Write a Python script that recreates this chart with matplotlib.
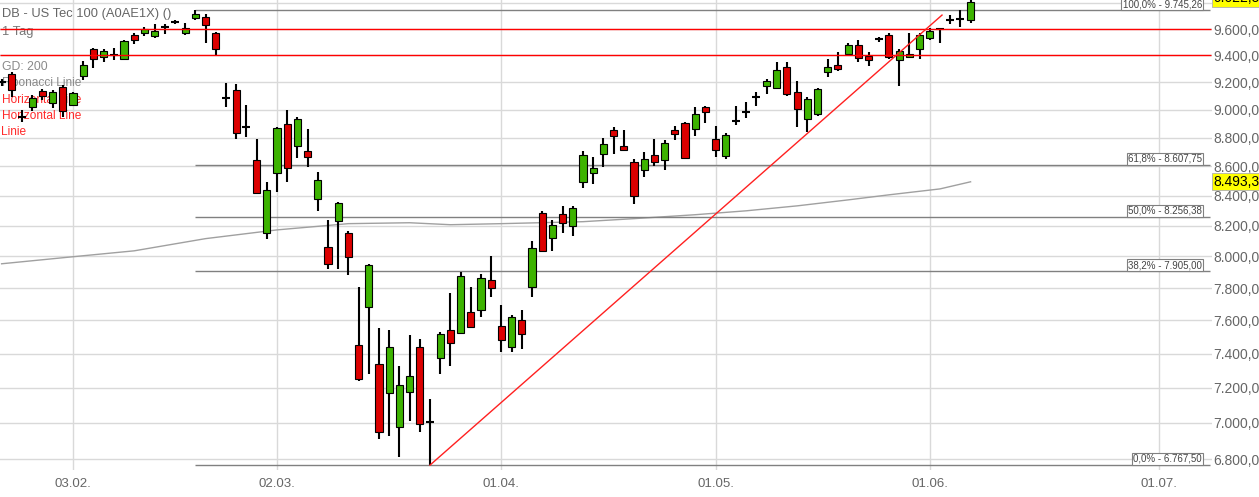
import matplotlib
matplotlib.use("Agg")
from matplotlib import pyplot as plt
from matplotlib.ticker import FixedLocator, FuncFormatter, NullLocator
import matplotlib.transforms as mtransforms
import numpy as np

plt.rcParams['font.family'] = ['Liberation Sans', 'DejaVu Sans']

# daily candles (trading-day index 0..95)
opens = [9201, 9260, 8946, 9018, 9135, 9047, 9164, 9033, 9246, 9448,
         9387, 9402, 9372, 9554, 9570, 9547, 9616, 9654, 9570, 9685,
         9693, 9570, 9084, 9142, 8875, 8644, 8153, 8554, 8897, 8741,
         8706, 8378, 8062, 8231, 8153, 7453, 7683, 7340, 7171, 6979,
         7177, 7441, 7007, 7375, 7543, 7525, 7652, 7665, 7851, 7567,
         7441, 7603, 7807, 8284, 8120, 8277, 8198, 8493, 8554, 8685,
         8854, 8741, 8630, 8575, 8678, 8644, 8854, 8904, 8861, 9018,
         8790, 8671, 8918, 8982, 9091, 9171, 9157, 9312, 9128, 8932,
         8968, 9275, 9327, 9410, 9478, 9395, 9524, 9554, 9365, 9387,
         9448, 9531, 9600, 9670, 9678, 9670]
highs = [9223, 9275, 8997, 9106, 9150, 9142, 9179, 9128, 9357, 9455,
         9448, 9455, 9516, 9570, 9616, 9639, 9639, 9670, 9647, 9745,
         9716, 9578, 9194, 9186, 9033, 8790, 8493, 8872, 8997, 8946,
         8861, 8561, 8238, 8355, 8166, 7807, 7953, 7555, 7543, 7328,
         7513, 7489, 7137, 7531, 7770, 7902, 7807, 7889, 8004, 7695,
         7634, 7665, 8100, 8297, 8238, 8330, 8330, 8706, 8664, 8797,
         8875, 8854, 8651, 8699, 8790, 8783, 8882, 8911, 9018, 9025,
         8882, 8832, 9025, 9055, 9128, 9223, 9350, 9350, 9208, 9091,
         9157, 9372, 9425, 9493, 9516, 9425, 9539, 9570, 9448, 9570,
         9570, 9608, 9608, 9709, 9748, 9826]
lows = [9171, 9091, 8911, 8990, 9069, 9011, 8946, 9025, 9216, 9305,
        9350, 9365, 9365, 9485, 9547, 9531, 9562, 9639, 9554, 9670,
        9493, 9402, 9018, 8790, 8804, 8412, 8113, 8425, 8493, 8657,
        8595, 8298, 7921, 7921, 7883, 7241, 7282, 6912, 6929, 6813,
        7012, 6951, 6767.5, 7282, 7328, 7519, 7555, 7621, 7745, 7411,
        7411, 7429, 7745, 8029, 8036, 8153, 8133, 8452, 8479, 8595,
        8685, 8706, 8344, 8527, 8602, 8575, 8783, 8651, 8811, 8904,
        8664, 8651, 8889, 8939, 9025, 9113, 9150, 9098, 8875, 8840,
        8953, 9238, 9283, 9395, 9350, 9320, 9501, 9372, 9171, 9380,
        9372, 9516, 9493, 9639, 9616, 9647]
closes = [9201, 9142, 8946, 9084, 9098, 9128, 8990, 9120, 9327, 9372,
          9433, 9402, 9508, 9516, 9600, 9585, 9616, 9654, 9608, 9716,
          9631, 9448, 9084, 8833, 8875, 8418, 8438, 8868, 8588, 8932,
          8664, 8506, 7953, 8351, 7997, 7252, 7946, 6951, 7441, 7218,
          7270, 6996, 7007, 7519, 7465, 7876, 7561, 7864, 7801, 7483,
          7621, 7519, 8055, 8036, 8205, 8218, 8317, 8678, 8588, 8755,
          8811, 8713, 8398, 8651, 8630, 8762, 8825, 8657, 8968, 8982,
          8713, 8818, 8918, 8982, 9091, 9208, 9290, 9113, 9004, 9076,
          9150, 9312, 9297, 9478, 9380, 9365, 9524, 9387, 9433, 9410,
          9554, 9585, 9600, 9670, 9678, 9810]

# 200-day average (GD 200)
ma_idx = [0, 7, 13, 20, 27, 34, 40, 44, 49, 57, 62, 68, 73, 78, 83, 87, 92, 95]
ma_val = [7953, 7998, 8036, 8115, 8172, 8213, 8219, 8206, 8213, 8226,
          8246, 8272, 8298, 8331, 8371, 8405, 8445, 8493.3]

fib_pct = ['100,0%', '61,8%', '50,0%', '38,2%', '0,0%']
fib_val = [9745.26, 8607.75, 8256.38, 7905.00, 6767.50]
fib_start = 18.95

hlines_red = [9600, 9400]
trend_x = [42, 92.2]
trend_y = [6767.5, 9708]

date_pos = [7, 27, 49, 70, 91, 113.5]
date_lab = ['03.02.', '02.03.', '01.04.', '01.05.', '01.06.', '01.07.']
yticks = [6800, 7000, 7200, 7400, 7600, 7800, 8000, 8200, 8400, 8600,
          8800, 9000, 9200, 9400, 9600, 9800]
last_price = 9622.5
ma_last = 8493.3


def de(v, nd):
    s = f"{v:,.{nd}f}"
    return s.replace(',', 'X').replace('.', ',').replace('X', '.')


W, H = 1259, 497
fig = plt.figure(figsize=(W / 100, H / 100), dpi=100)
ax = fig.add_axes([0, 27 / H, 1212 / W, 470 / H])
ax.set_yscale('log')
ax.set_ylim(6741, 9826)
ax.set_xlim(-0.157, 118.67)
for s in ax.spines.values():
    s.set_visible(False)

# grid
for y in yticks:
    ax.axhline(y, color='#d9d9d9', lw=1, zorder=0)
for x in date_pos:
    ax.axvline(x, color='#d9d9d9', lw=1, zorder=0)

# axis ticks (top label sits under the yellow last-price box)
ax.yaxis.tick_right()
ax.yaxis.set_major_locator(FixedLocator(yticks[:-1]))
ax.yaxis.set_minor_locator(NullLocator())
ax.yaxis.set_major_formatter(FuncFormatter(lambda v, p: de(v, 1)))
ax.tick_params(axis='y', length=0, pad=1, labelsize=10, labelcolor='#666666')
ax.set_xticks(date_pos)
ax.set_xticklabels(date_lab)
ax.tick_params(axis='x', length=0, pad=6, labelsize=9.5, labelcolor='#666666')

# candles
idx = np.arange(len(opens))
o = np.array(opens, float)
c = np.array(closes, float)
ax.vlines(idx, lows, highs, color='black', lw=1.5, zorder=2.5)
up = c > o
dn = c < o
doji = c == o
ax.bar(idx[up], c[up] - o[up], bottom=o[up], width=0.69, color='#3db300',
       edgecolor='black', lw=0.8, zorder=3)
ax.bar(idx[dn], o[dn] - c[dn], bottom=c[dn], width=0.69, color='#dc0000',
       edgecolor='black', lw=0.8, zorder=3)
ax.hlines(o[doji], idx[doji] - 0.4, idx[doji] + 0.4, color='black', lw=1.5,
          zorder=3)

# moving average
ax.plot(ma_idx, ma_val, color='#a0a0a0', lw=1, zorder=2)

# fibonacci
x_end = 118.45
ax.hlines(fib_val, fib_start, x_end, color='#808080', lw=1, zorder=2)
bt = mtransforms.blended_transform_factory(ax.transAxes, ax.transData)
for p, v in zip(fib_pct, fib_val):
    ax.text(1202 / 1212, v * 1.0009, f"{p} - {de(v, 2)}", transform=bt,
            ha='right', va='bottom', fontsize=7, color='#444444', zorder=5,
            bbox=dict(boxstyle='square,pad=0.12', fc='white', ec='#808080',
                      lw=0.8))

# red lines
ax.hlines(hlines_red, -0.157, 118.6, color='#ff0000', lw=1, zorder=4)
ax.plot(trend_x, trend_y, color='#ff2020', lw=1, zorder=4)

# price labels at the right
ax.text(1.001, ma_last, de(ma_last, 1), transform=bt, ha='left', va='center',
        fontsize=10, color='black', clip_on=False, zorder=6,
        bbox=dict(boxstyle='square,pad=0.1', fc='#ffff00', ec='#b0b0b0',
                  lw=0.6))
ax.text(1.001, 1.004, de(last_price, 1), transform=ax.transAxes, ha='left',
        va='center', fontsize=10, color='black', clip_on=False, zorder=6,
        bbox=dict(boxstyle='square,pad=0.1', fc='#ffff00', ec='#b0b0b0',
                  lw=0.6))

# legend texts top left
legend_items = [
    ("DB - US Tec 100 (A0AE1X) ()", 14.5, '#666666', 9.3),
    ("1 Tag", 32, '#777777', 9.3),
    ("GD: 200", 67, '#8a8a8a', 8.8),
    ("Fibonacci Linie", 83, '#8a8a8a', 8.6),
    ("Horizontal Line", 100, '#ff2a2a', 8.6),
    ("Horizontal Line", 116, '#ff2a2a', 8.6),
    ("Linie", 132, '#ff2a2a', 8.6),
]
for txt, ypx, col, fs in legend_items:
    ax.text(1.5 / 1212, 1 - ypx / 470, txt, transform=ax.transAxes,
            ha='left', va='center', fontsize=fs, color=col, zorder=1)

fig.savefig('out.png', dpi=100)
